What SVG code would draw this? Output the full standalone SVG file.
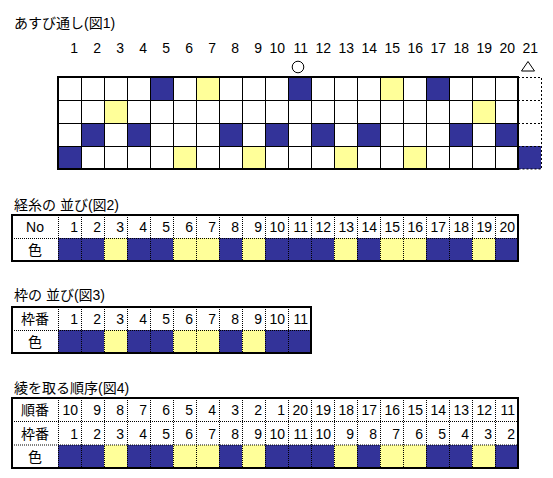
<svg xmlns="http://www.w3.org/2000/svg" width="553" height="478" viewBox="0 0 553 478">
<defs>
<style>
.t{font-family:"Liberation Sans","Noto Sans CJK JP",sans-serif;font-size:14px;fill:#000}
.n{text-anchor:end}
.c{text-anchor:middle}
.b{fill:#333399}
.y{fill:#FFFF99}
.g{stroke:#000;stroke-width:1;fill:none}
.d{stroke:#000;stroke-width:1;fill:none;stroke-dasharray:1 1}
.ds{stroke:#000;stroke-width:1;fill:none;stroke-dasharray:2 2}
.o{stroke:#000;stroke-width:2;fill:none}
</style>
</defs>
<rect width="553" height="478" fill="#fff"/>

<g id="fig1">
<text class="t" x="14" y="28">あすび通し(図1)</text>
<g class="t n">
<text x="78" y="53">1</text><text x="101" y="53">2</text><text x="124" y="53">3</text><text x="147" y="53">4</text><text x="170" y="53">5</text><text x="193" y="53">6</text><text x="216" y="53">7</text><text x="239" y="53">8</text><text x="262" y="53">9</text><text x="285" y="53">10</text><text x="308" y="53">11</text><text x="331" y="53">12</text><text x="354" y="53">13</text><text x="377" y="53">14</text><text x="400" y="53">15</text><text x="423" y="53">16</text><text x="446" y="53">17</text><text x="469" y="53">18</text><text x="492" y="53">19</text><text x="515" y="53">20</text><text x="538" y="53">21</text>
</g>
<circle cx="298" cy="67" r="5.8" class="g"/>
<polygon points="528,61.5 521.5,71 534.5,71" class="g"/>
<g>
<rect class="b" x="150" y="77" width="23" height="23"/><rect class="y" x="196" y="77" width="23" height="23"/><rect class="b" x="288" y="77" width="23" height="23"/><rect class="y" x="380" y="77" width="23" height="23"/><rect class="b" x="426" y="77" width="23" height="23"/>
<rect class="y" x="104" y="100" width="23" height="23"/><rect class="y" x="472" y="100" width="23" height="23"/>
<rect class="b" x="81" y="123" width="23" height="23"/><rect class="b" x="127" y="123" width="23" height="23"/><rect class="b" x="219" y="123" width="23" height="23"/><rect class="b" x="265" y="123" width="23" height="23"/><rect class="b" x="311" y="123" width="23" height="23"/><rect class="b" x="357" y="123" width="23" height="23"/><rect class="b" x="449" y="123" width="23" height="23"/><rect class="b" x="495" y="123" width="23" height="23"/>
<rect class="b" x="58" y="146" width="23" height="23"/><rect class="y" x="173" y="146" width="23" height="23"/><rect class="y" x="242" y="146" width="23" height="23"/><rect class="y" x="334" y="146" width="23" height="23"/><rect class="y" x="403" y="146" width="23" height="23"/>
<rect class="b" x="518" y="146" width="23" height="23"/>
</g>
<path class="g" d="M81.5 77V169M104.5 77V169M127.5 77V169M150.5 77V169M173.5 77V169M196.5 77V169M219.5 77V169M242.5 77V169M265.5 77V169M288.5 77V169M311.5 77V169M334.5 77V169M357.5 77V169M380.5 77V169M403.5 77V169M426.5 77V169M449.5 77V169M472.5 77V169M495.5 77V169M58 100.5H518M58 123.5H518M58 146.5H518"/>
<path class="ds" d="M518 77.5H541.5V169H518M518 100.5H541M518 123.5H541M518 146.5H541"/>
<rect class="o" x="58" y="77" width="460" height="92"/>
</g>

<g id="fig2">
<text class="t" x="14" y="210">経糸の 並び(図2)</text>
<g>
<rect class="b" x="58" y="238" width="23" height="23"/><rect class="b" x="81" y="238" width="23" height="23"/><rect class="y" x="104" y="238" width="23" height="23"/><rect class="b" x="127" y="238" width="23" height="23"/><rect class="b" x="150" y="238" width="23" height="23"/><rect class="y" x="173" y="238" width="23" height="23"/><rect class="y" x="196" y="238" width="23" height="23"/><rect class="b" x="219" y="238" width="23" height="23"/><rect class="y" x="242" y="238" width="23" height="23"/><rect class="b" x="265" y="238" width="23" height="23"/><rect class="b" x="288" y="238" width="23" height="23"/><rect class="b" x="311" y="238" width="23" height="23"/><rect class="y" x="334" y="238" width="23" height="23"/><rect class="b" x="357" y="238" width="23" height="23"/><rect class="y" x="380" y="238" width="23" height="23"/><rect class="y" x="403" y="238" width="23" height="23"/><rect class="b" x="426" y="238" width="23" height="23"/><rect class="b" x="449" y="238" width="23" height="23"/><rect class="y" x="472" y="238" width="23" height="23"/><rect class="b" x="495" y="238" width="23" height="23"/>
</g>
<path class="d" d="M58.5 215V261M81.5 215V261M104.5 215V261M127.5 215V261M150.5 215V261M173.5 215V261M196.5 215V261M219.5 215V261M242.5 215V261M265.5 215V261M288.5 215V261M311.5 215V261M334.5 215V261M357.5 215V261M380.5 215V261M403.5 215V261M426.5 215V261M449.5 215V261M472.5 215V261M495.5 215V261M12 238.5H518"/>
<rect class="o" x="12" y="215" width="506" height="46"/>
<text class="t c" x="35" y="231.5">No</text>
<text class="t c" x="35" y="254.5">色</text>
<g class="t n">
<text x="78" y="231.5">1</text><text x="101" y="231.5">2</text><text x="124" y="231.5">3</text><text x="147" y="231.5">4</text><text x="170" y="231.5">5</text><text x="193" y="231.5">6</text><text x="216" y="231.5">7</text><text x="239" y="231.5">8</text><text x="262" y="231.5">9</text><text x="285" y="231.5">10</text><text x="308" y="231.5">11</text><text x="331" y="231.5">12</text><text x="354" y="231.5">13</text><text x="377" y="231.5">14</text><text x="400" y="231.5">15</text><text x="423" y="231.5">16</text><text x="446" y="231.5">17</text><text x="469" y="231.5">18</text><text x="492" y="231.5">19</text><text x="515" y="231.5">20</text>
</g>
</g>

<g id="fig3">
<text class="t" x="14" y="300">枠の 並び(図3)</text>
<g>
<rect class="b" x="58" y="330" width="23" height="23"/><rect class="b" x="81" y="330" width="23" height="23"/><rect class="y" x="104" y="330" width="23" height="23"/><rect class="b" x="127" y="330" width="23" height="23"/><rect class="b" x="150" y="330" width="23" height="23"/><rect class="y" x="173" y="330" width="23" height="23"/><rect class="y" x="196" y="330" width="23" height="23"/><rect class="b" x="219" y="330" width="23" height="23"/><rect class="y" x="242" y="330" width="23" height="23"/><rect class="b" x="265" y="330" width="23" height="23"/><rect class="b" x="288" y="330" width="23" height="23"/>
</g>
<path class="d" d="M58.5 307V353M81.5 307V353M104.5 307V353M127.5 307V353M150.5 307V353M173.5 307V353M196.5 307V353M219.5 307V353M242.5 307V353M265.5 307V353M288.5 307V353M12 330.5H311"/>
<rect class="o" x="12" y="307" width="299" height="46"/>
<text class="t c" x="35" y="323.5">枠番</text>
<text class="t c" x="35" y="346.5">色</text>
<g class="t n">
<text x="78" y="323.5">1</text><text x="101" y="323.5">2</text><text x="124" y="323.5">3</text><text x="147" y="323.5">4</text><text x="170" y="323.5">5</text><text x="193" y="323.5">6</text><text x="216" y="323.5">7</text><text x="239" y="323.5">8</text><text x="262" y="323.5">9</text><text x="285" y="323.5">10</text><text x="308" y="323.5">11</text>
</g>
</g>

<g id="fig4">
<text class="t" x="14" y="393">綾を取る順序(図4)</text>
<g>
<rect class="b" x="58" y="445" width="23" height="23"/><rect class="b" x="81" y="445" width="23" height="23"/><rect class="y" x="104" y="445" width="23" height="23"/><rect class="b" x="127" y="445" width="23" height="23"/><rect class="b" x="150" y="445" width="23" height="23"/><rect class="y" x="173" y="445" width="23" height="23"/><rect class="y" x="196" y="445" width="23" height="23"/><rect class="b" x="219" y="445" width="23" height="23"/><rect class="y" x="242" y="445" width="23" height="23"/><rect class="b" x="265" y="445" width="23" height="23"/><rect class="b" x="288" y="445" width="23" height="23"/><rect class="b" x="311" y="445" width="23" height="23"/><rect class="y" x="334" y="445" width="23" height="23"/><rect class="b" x="357" y="445" width="23" height="23"/><rect class="y" x="380" y="445" width="23" height="23"/><rect class="y" x="403" y="445" width="23" height="23"/><rect class="b" x="426" y="445" width="23" height="23"/><rect class="b" x="449" y="445" width="23" height="23"/><rect class="y" x="472" y="445" width="23" height="23"/><rect class="b" x="495" y="445" width="23" height="23"/>
</g>
<path class="d" d="M58.5 398V468M81.5 398V468M104.5 398V468M127.5 398V468M150.5 398V468M173.5 398V468M196.5 398V468M219.5 398V468M242.5 398V468M265.5 398V468M288.5 398V468M311.5 398V468M334.5 398V468M357.5 398V468M380.5 398V468M403.5 398V468M426.5 398V468M449.5 398V468M472.5 398V468M495.5 398V468M12 421.5H518M12 445H518"/>
<rect class="o" x="12" y="398" width="506" height="70"/>
<text class="t c" x="35" y="415">順番</text>
<text class="t c" x="35" y="438.5">枠番</text>
<text class="t c" x="35" y="461.5">色</text>
<g class="t n">
<text x="78" y="415">10</text><text x="101" y="415">9</text><text x="124" y="415">8</text><text x="147" y="415">7</text><text x="170" y="415">6</text><text x="193" y="415">5</text><text x="216" y="415">4</text><text x="239" y="415">3</text><text x="262" y="415">2</text><text x="285" y="415">1</text><text x="308" y="415">20</text><text x="331" y="415">19</text><text x="354" y="415">18</text><text x="377" y="415">17</text><text x="400" y="415">16</text><text x="423" y="415">15</text><text x="446" y="415">14</text><text x="469" y="415">13</text><text x="492" y="415">12</text><text x="515" y="415">11</text>
<text x="78" y="438.5">1</text><text x="101" y="438.5">2</text><text x="124" y="438.5">3</text><text x="147" y="438.5">4</text><text x="170" y="438.5">5</text><text x="193" y="438.5">6</text><text x="216" y="438.5">7</text><text x="239" y="438.5">8</text><text x="262" y="438.5">9</text><text x="285" y="438.5">10</text><text x="308" y="438.5">11</text><text x="331" y="438.5">10</text><text x="354" y="438.5">9</text><text x="377" y="438.5">8</text><text x="400" y="438.5">7</text><text x="423" y="438.5">6</text><text x="446" y="438.5">5</text><text x="469" y="438.5">4</text><text x="492" y="438.5">3</text><text x="515" y="438.5">2</text>
</g>
</g>
</svg>
